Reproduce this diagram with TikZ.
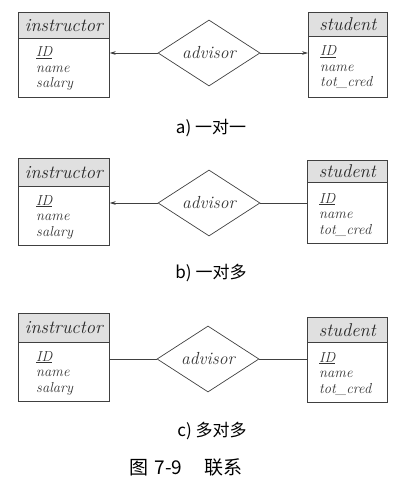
\documentclass[tikz,border=0pt]{standalone}
\usepackage{fontspec}
\newfontfamily\cjk{Noto Sans CJK SC}
\usetikzlibrary{shapes.geometric,arrows.meta}
\tikzset{
  ln/.style={draw=black!75, line width=0.7pt},
  hdr/.style={ln, fill=black!12, inner sep=0pt, anchor=north west,
    font=\fontsize{18.5}{21}\selectfont\itshape, text=black!85},
  bodybox/.style={ln, fill=white, inner sep=0pt, anchor=north west},
  attr/.style={inner sep=0pt, anchor=base west, text=black!80,
    font=\fontsize{14.5}{16}\selectfont\itshape},
  rel/.style={ln, diamond, aspect=1.55, inner sep=0pt, minimum width=102pt,
    minimum height=66pt, font=\fontsize{17.5}{20}\selectfont\itshape, text=black!80},
  conn/.style={ln},
  arr/.style={ln, -{Stealth[length=6pt,width=3.6pt]}},
  captext/.style={inner sep=0pt, font=\fontsize{17}{20}\selectfont\cjk},
}
\begin{document}
\begin{tikzpicture}[x=1pt,y=-1pt]
\useasboundingbox (0,0) rectangle (406,494);
% ---------- a ----------
\node[hdr, minimum width=91pt, minimum height=26pt] (ia-h) at (18,12) {instructor};
\node[bodybox, minimum width=91pt, minimum height=59pt] (ia-b) at (18,38) {};
\node[attr] (ia-1) at (36,57) {\underline{ID}};
\node[attr] (ia-2) at (36,72.5) {name};
\node[attr] (ia-3) at (36,88) {salary};
\node[hdr, minimum width=79pt, minimum height=24pt] (sa-h) at (308,12) {student};
\node[bodybox, minimum width=79pt, minimum height=61pt] (sa-b) at (308,36) {};
\node[attr] (sa-1) at (320,56) {\underline{ID}};
\node[attr] (sa-2) at (320,71.5) {name};
\node[attr] (sa-3) at (320,87) {tot\_cred};
\node[rel] (da) at (209,53) {advisor};
\draw[arr] (da.west) -- (da.west -| ia-b.east);
\draw[arr] (da.east) -- (da.east -| sa-b.west);
\node[captext] (ca) at (211,128) {a) 一对一};
% ---------- b ----------
\node[hdr, minimum width=91pt, minimum height=28pt] (ib-h) at (18,158) {instructor};
\node[bodybox, minimum width=91pt, minimum height=59pt] (ib-b) at (18,186) {};
\node[attr] (ib-1) at (36,205) {\underline{ID}};
\node[attr] (ib-2) at (36,220.5) {name};
\node[attr] (ib-3) at (36,236) {salary};
\node[hdr, minimum width=80pt, minimum height=22pt] (sb-h) at (307,160) {student};
\node[bodybox, minimum width=80pt, minimum height=61pt] (sb-b) at (307,182) {};
\node[attr] (sb-1) at (319,203) {\underline{ID}};
\node[attr] (sb-2) at (319,218.5) {name};
\node[attr] (sb-3) at (319,234) {tot\_cred};
\node[rel] (db) at (209,203) {advisor};
\draw[arr] (db.west) -- (db.west -| ib-b.east);
\draw[conn] (db.east) -- (db.east -| sb-b.west);
\node[captext] (cb) at (211,273) {b) 一对多};
% ---------- c ----------
\node[hdr, minimum width=91pt, minimum height=29pt] (ic-h) at (18,313) {instructor};
\node[bodybox, minimum width=91pt, minimum height=59pt] (ic-b) at (18,342) {};
\node[attr] (ic-1) at (36,361) {\underline{ID}};
\node[attr] (ic-2) at (36,376.5) {name};
\node[attr] (ic-3) at (36,392) {salary};
\node[hdr, minimum width=80pt, minimum height=25pt] (sc-h) at (307,317) {student};
\node[bodybox, minimum width=80pt, minimum height=60pt] (sc-b) at (307,342) {};
\node[attr] (sc-1) at (319,362) {\underline{ID}};
\node[attr] (sc-2) at (319,377.5) {name};
\node[attr] (sc-3) at (319,393) {tot\_cred};
\node[rel] (dc) at (208,359) {advisor};
\draw[conn] (dc.west) -- (dc.west -| ic-b.east);
\draw[conn] (dc.east) -- (dc.east -| sc-b.west);
\node[captext] (cc) at (212,431) {c) 多对多};
\node[captext, font=\fontsize{19}{22}\selectfont\cjk] (fig) at (186,467) {图\hspace{6pt}7-9\hspace{22pt}联系};
\end{tikzpicture}
\end{document}
